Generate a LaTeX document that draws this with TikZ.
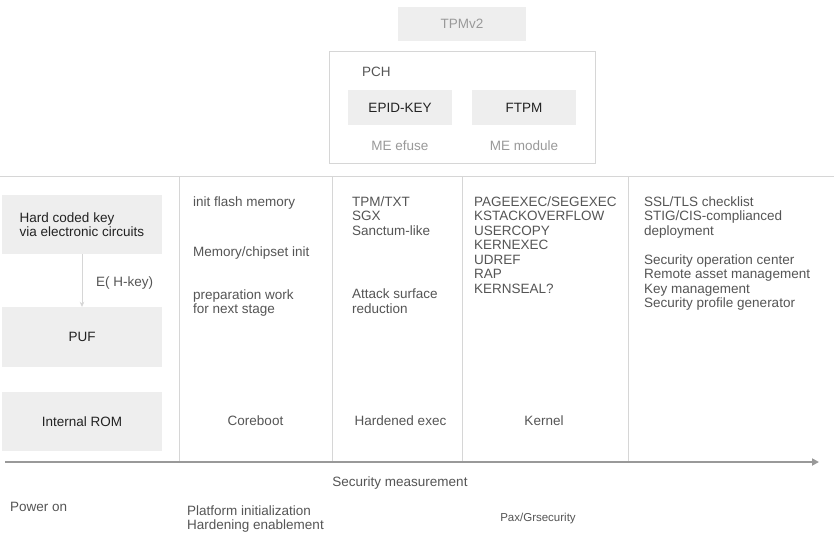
\documentclass[tikz,border=0pt]{standalone}
\usepackage{fontspec}
\setmainfont{Liberation Sans}
\usetikzlibrary{arrows.meta}
\definecolor{boxfill}{HTML}{EEEEEE}
\definecolor{linec}{HTML}{D6D6D6}
\definecolor{txtc}{HTML}{555555}
\definecolor{darkc}{HTML}{222222}
\definecolor{lightc}{HTML}{999999}
\definecolor{axisc}{HTML}{999999}
\newcommand\mlines[1]{\vtop{\halign{##\hfil\cr#1\crcr}}}
\begin{document}
\begin{tikzpicture}[x=1pt,y=-1pt,
  lbl/.style={font=\fontsize{13.5}{14.5}\selectfont, text=txtc, inner sep=0pt, anchor=base west},
  clbl/.style={font=\fontsize{13.5}{14.5}\selectfont, text=txtc, inner sep=0pt, anchor=base},
  graybox/.style={fill=boxfill, draw=none, inner sep=0pt, font=\fontsize{13.5}{14.5}\selectfont, text=darkc, align=left},
  frame/.style={draw=linec, line width=0.8pt},
  sep/.style={draw=linec, line width=0.9pt},
]
\useasboundingbox (0,0) rectangle (834,539);
\fill[white] (0,0) rectangle (834,539);

% top: TPMv2 and PCH
\node[graybox, text=lightc, minimum width=128pt, minimum height=34pt] (tpm) at (462,24) {TPMv2};
\node[frame, inner sep=0pt, minimum width=266pt, minimum height=112pt] (pch) at (462,107) {};
\node[lbl] (pchl) at (362,76) {PCH};
\node[graybox, minimum width=104pt, minimum height=35pt] (epid) at (400,107.5) {EPID-KEY};
\node[graybox, minimum width=104pt, minimum height=35pt] (ftpm) at (524,107.5) {FTPM};
\node[clbl, text=lightc] (efuse) at (400,150) {ME efuse};
\node[clbl, text=lightc] (memod) at (524,150) {ME module};

% grid lines
\coordinate (hl) at (0,176);
\coordinate (hr) at (834,176);
\draw[sep] (hl) -- (hr);
\foreach \x/\n in {179/a,332/b,462/c,628/d}{
  \coordinate (t\n) at (\x,176);
  \coordinate (b\n) at (\x,462);
  \draw[sep] (t\n) -- (b\n);
}

% left column boxes
\node[graybox, minimum width=160pt, minimum height=59pt] (hk) at (82,224.5) {Hard coded key\\via electronic circuits};
\node[graybox, minimum width=160pt, minimum height=60pt] (puf) at (82,337) {PUF};
\node[graybox, minimum width=160pt, minimum height=59pt] (rom) at (82,421.5) {Internal ROM};
\draw[draw=linec, line width=0.8pt, -{Stealth[length=5pt,width=4.5pt,fill=lightc!70]}] (hk.south) -- (puf.north);
\node[lbl] (ehk) at (96,286.5) {E( H-key)};

% column 2
\node[lbl] (c2a) at (193,206) {init flash memory};
\node[lbl] (c2b) at (193,256) {Memory/chipset init};
\node[lbl] (c2c) at (193,299) {\mlines{preparation work\cr for next stage}};
\node[clbl] (core) at (255.5,425.5) {Coreboot};

% column 3
\node[lbl] (c3a) at (352,206) {\mlines{TPM/TXT\cr SGX\cr Sanctum-like}};
\node[lbl] (c3b) at (352,298.5) {\mlines{Attack surface\cr reduction}};
\node[clbl] (hard) at (400.5,425.5) {Hardened exec};

% column 4
\node[lbl] (c4a) at (474,206) {\mlines{PAGEEXEC/SEGEXEC\cr KSTACKOVERFLOW\cr USERCOPY\cr KERNEXEC\cr UDREF\cr RAP\cr KERNSEAL?}};
\node[clbl] (kern) at (544,425.5) {Kernel};

% column 5
\node[lbl] (c5a) at (644,206) {\mlines{SSL/TLS checklist\cr STIG/CIS-complianced\cr deployment\cr \cr Security operation center\cr Remote asset management\cr Key management\cr Security profile generator}};

% axis
\coordinate (axl) at (5,462);
\coordinate (axr) at (819,462);
\draw[draw=axisc, line width=2.2pt, -{Triangle[length=7pt,width=7pt]}] (axl) -- (axr);

% bottom labels
\node[clbl] (secm) at (400,486) {Security measurement};
\node[lbl] (pow) at (10,511) {Power on};
\node[lbl] (plat) at (187,515) {\mlines{Platform initialization\cr Hardening enablement}};
\node[font=\fontsize{11.5}{13}\selectfont, text=txtc, inner sep=0pt, anchor=base] (pax) at (538,521) {Pax/Grsecurity};
\end{tikzpicture}
\end{document}
